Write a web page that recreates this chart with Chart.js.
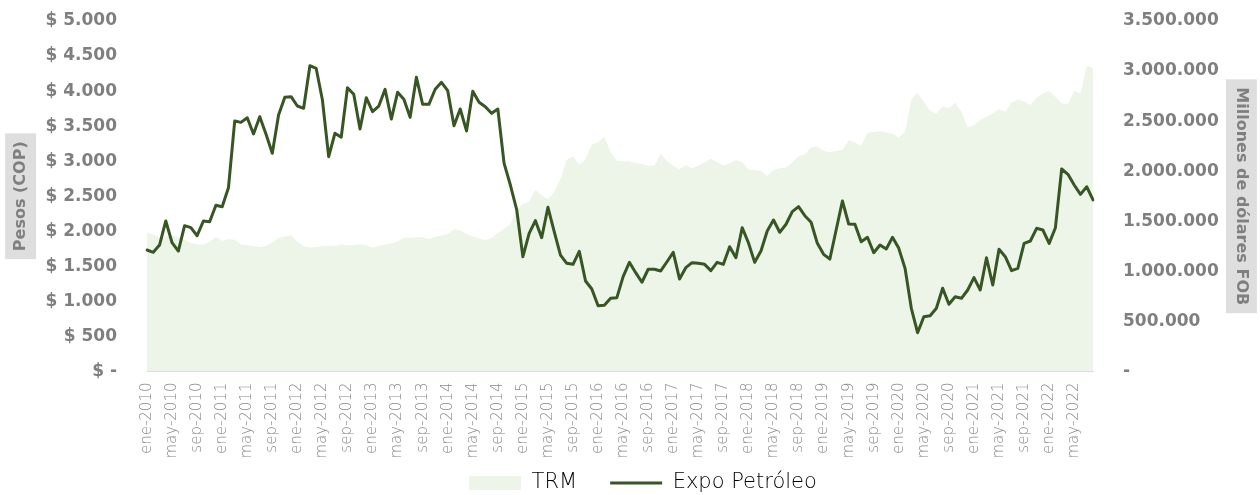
<!DOCTYPE html>
<html>
<head>
<meta charset="utf-8">
<script src="https://cdn.jsdelivr.net/npm/chart.js@4.4.0/dist/chart.umd.min.js"></script>
<style>
html,body{margin:0;padding:0;background:#ffffff;}
#wrap{width:1260px;height:495px;position:relative;}
</style>
</head>
<body>
<div id="wrap"><canvas id="grafico" width="1260" height="495"></canvas></div>
<script>
// ---- Categorías (mensuales, ene-2010 a ago-2022) ----
const meses = ['ene','feb','mar','abr','may','jun','jul','ago','sep','oct','nov','dic'];
const anios = [2010,2011,2012,2013,2014,2015,2016,2017,2018,2019,2020,2021,2022];
const mesesUltimoAnio = 8;
const categorias = [];
anios.forEach((a, k) => {
  const n = (k === anios.length - 1) ? mesesUltimoAnio : 12;
  for (let m = 0; m < n; m++) categorias.push(meses[m] + '-' + a);
});

// ---- Serie TRM (pesos por dólar, eje izquierdo) ----
const trm = [
  1985,1950,1915,1925,1935,1920,1880,1835,1810,1810,1850,1920,
  1865,1890,1880,1815,1800,1785,1775,1790,1840,1905,1925,1940,
  1855,1790,1770,1775,1790,1795,1785,1810,1800,1805,1815,1800,
  1770,1790,1810,1830,1855,1910,1905,1915,1920,1890,1925,1935,
  1960,2030,2010,1960,1930,1900,1875,1905,1975,2035,2105,2305,
  2390,2425,2590,2510,2460,2560,2750,3020,3070,2950,3030,3240,
  3270,3350,3130,3005,3000,3000,2970,2960,2935,2940,3105,3000,
  2935,2890,2945,2900,2935,2980,3040,2985,2940,2970,3015,2990,
  2880,2875,2860,2790,2875,2900,2910,2980,3070,3100,3200,3210,
  3150,3125,3150,3160,3300,3265,3220,3410,3415,3430,3410,3390,
  3340,3420,3880,3975,3850,3715,3685,3785,3755,3835,3705,3485,
  3515,3590,3635,3685,3740,3705,3835,3880,3850,3800,3905,3965,
  4000,3920,3825,3815,4005,3965,4360,4325
];

// ---- Serie Expo Petróleo (eje derecho) ----
const expoPetroleo = [
  1213000,1190000,1263000,1503000,1286000,1203000,1456000,1436000,1356000,1503000,1496000,1660000,
  1646000,1835000,2501000,2488000,2534000,2372000,2544000,2368000,2179000,2561000,2738000,2744000,
  2651000,2628000,3054000,3028000,2711000,2145000,2379000,2339000,2834000,2768000,2422000,2734000,
  2594000,2651000,2818000,2521000,2788000,2718000,2538000,2938000,2668000,2668000,2818000,2888000,
  2804000,2455000,2621000,2402000,2798000,2688000,2644000,2578000,2621000,2079000,1862000,1620000,
  1146000,1380000,1506000,1336000,1640000,1396000,1163000,1080000,1070000,1200000,904000,824000,
  657000,661000,731000,737000,947000,1090000,987000,891000,1021000,1021000,1004000,1096000,
  1190000,924000,1037000,1087000,1080000,1070000,1007000,1090000,1070000,1246000,1136000,1436000,
  1286000,1090000,1203000,1403000,1513000,1390000,1470000,1596000,1646000,1556000,1490000,1280000,
  1170000,1123000,1413000,1703000,1473000,1470000,1296000,1340000,1186000,1263000,1223000,1340000,
  1230000,1030000,631000,387000,547000,557000,631000,831000,671000,747000,731000,814000,
  937000,814000,1136000,864000,1220000,1146000,1007000,1030000,1280000,1303000,1430000,1413000,
  1280000,1436000,2022000,1969000,1862000,1769000,1845000,1713000
];

// ---- Etiquetas de los ejes ----
const etiquetasPesos = ['$ -','$ 500','$ 1.000','$ 1.500','$ 2.000','$ 2.500','$ 3.000','$ 3.500','$ 4.000','$ 4.500','$ 5.000'];
const etiquetasFOB = ['-','500.000','1.000.000','1.500.000','2.000.000','2.500.000','3.000.000','3.500.000'];
const tituloIzq = 'Pesos (COP)';
const tituloDer = 'Millones de dólares FOB';
const nombresSeries = ['TRM', 'Expo Petróleo'];

const COLOR_AREA = '#EDF5E9';
const COLOR_LINEA = '#375623';
const GRIS = '#7f7f7f';
const GRIS_CLARO = '#8a8a8a';
const FUENTE = '"DejaVu Sans", sans-serif';

const cajaTitulos = {
  id: 'cajaTitulos',
  beforeDraw(chart) {
    const { ctx, chartArea, scales } = chart;
    const cy = (chartArea.top + chartArea.bottom) / 2;
    ctx.save();
    ctx.font = 'bold 16px ' + FUENTE;
    ctx.fillStyle = '#dedede';
    const lh = 16 * 1.2;
    const xL = scales.y.left + lh / 2 + 11;
    const wL = ctx.measureText(tituloIzq).width + 16;
    ctx.fillRect(xL - 15.5, cy - wL / 2, 31, wL);
    const xR = scales.y1.right - lh / 2 - 9;
    const wR = ctx.measureText(tituloDer).width + 16;
    ctx.fillRect(xR - 15.5, cy - wR / 2, 31, wR);
    ctx.restore();
  },
  afterLayout(chart) {
    const lg = chart.legend;
    if (lg) { lg.left += 13; lg.right += 13; lg.top -= 24; lg.bottom -= 24; }
  }
};

function sinRellenoVertical(s) { s.paddingTop = 0; s.paddingBottom = 0; }

new Chart(document.getElementById('grafico'), {
  type: 'line',
  data: {
    labels: categorias,
    datasets: [
      {
        label: nombresSeries[0], data: trm, yAxisID: 'y', order: 2,
        fill: 'origin', backgroundColor: COLOR_AREA, borderColor: COLOR_AREA,
        borderWidth: 0, pointRadius: 0, tension: 0
      },
      {
        label: nombresSeries[1], data: expoPetroleo, yAxisID: 'y1', order: 1,
        fill: false, borderColor: COLOR_LINEA, backgroundColor: COLOR_LINEA,
        borderWidth: 3, pointRadius: 0, tension: 0, borderJoinStyle: 'round', borderCapStyle: 'round'
      }
    ]
  },
  options: {
    responsive: false,
    animation: false,
    devicePixelRatio: 1,
    layout: { padding: { top: 21, left: 0, right: 0, bottom: -32.5 } },
    plugins: {
      tooltip: { enabled: false },
      legend: {
        position: 'bottom',
        labels: {
          usePointStyle: true,
          pointStyleWidth: 52,
          boxHeight: 14,
          padding: 33,
          color: '#808080',
          font: { family: FUENTE, weight: 200, size: 21 },
          generateLabels() {
            return [
              { text: nombresSeries[0], fillStyle: COLOR_AREA, strokeStyle: COLOR_AREA, lineWidth: 0, pointStyle: 'rect', datasetIndex: 0, hidden: false },
              { text: nombresSeries[1], fillStyle: COLOR_LINEA, strokeStyle: COLOR_LINEA, lineWidth: 3, pointStyle: 'line', datasetIndex: 1, hidden: false }
            ];
          }
        }
      }
    },
    scales: {
      x: {
        offset: false,
        grid: { display: false, drawTicks: false },
        border: { display: true, color: '#d9d9d9', width: 1 },
        ticks: {
          autoSkip: false, maxRotation: 90, minRotation: 90, padding: 11,
          color: GRIS_CLARO, font: { family: FUENTE, weight: 200, size: 15 },
          callback(v, i) { return i % 4 === 0 ? this.getLabelForValue(v) : ''; }
        },
        afterFit(s) { s.height = 92; }
      },
      y: {
        position: 'left', min: 0, max: 5000,
        grid: { display: false, drawTicks: false },
        border: { display: false },
        ticks: {
          stepSize: 500, padding: 30, color: GRIS,
          font: { family: FUENTE, weight: 'bold', size: 17 },
          callback(v) { return etiquetasPesos[Math.round(v / 500)]; }
        },
        title: { display: true, text: tituloIzq, color: GRIS, font: { family: FUENTE, weight: 'bold', size: 16 }, padding: { top: 11, bottom: 0 } },
        afterFit(s) { s.width = 147; sinRellenoVertical(s); }
      },
      y1: {
        position: 'right', min: 0, max: 3500000,
        grid: { display: false, drawTicks: false },
        border: { display: false },
        ticks: {
          stepSize: 500000, padding: 30, color: GRIS,
          font: { family: FUENTE, weight: 'bold', size: 17 },
          callback(v) { return etiquetasFOB[Math.round(v / 500000)]; }
        },
        title: { display: true, text: tituloDer, color: GRIS, font: { family: FUENTE, weight: 'bold', size: 16 }, padding: { top: 9, bottom: 0 } },
        afterFit(s) { s.width = 167; sinRellenoVertical(s); }
      }
    }
  },
  plugins: [cajaTitulos]
});
</script>
</body>
</html>
